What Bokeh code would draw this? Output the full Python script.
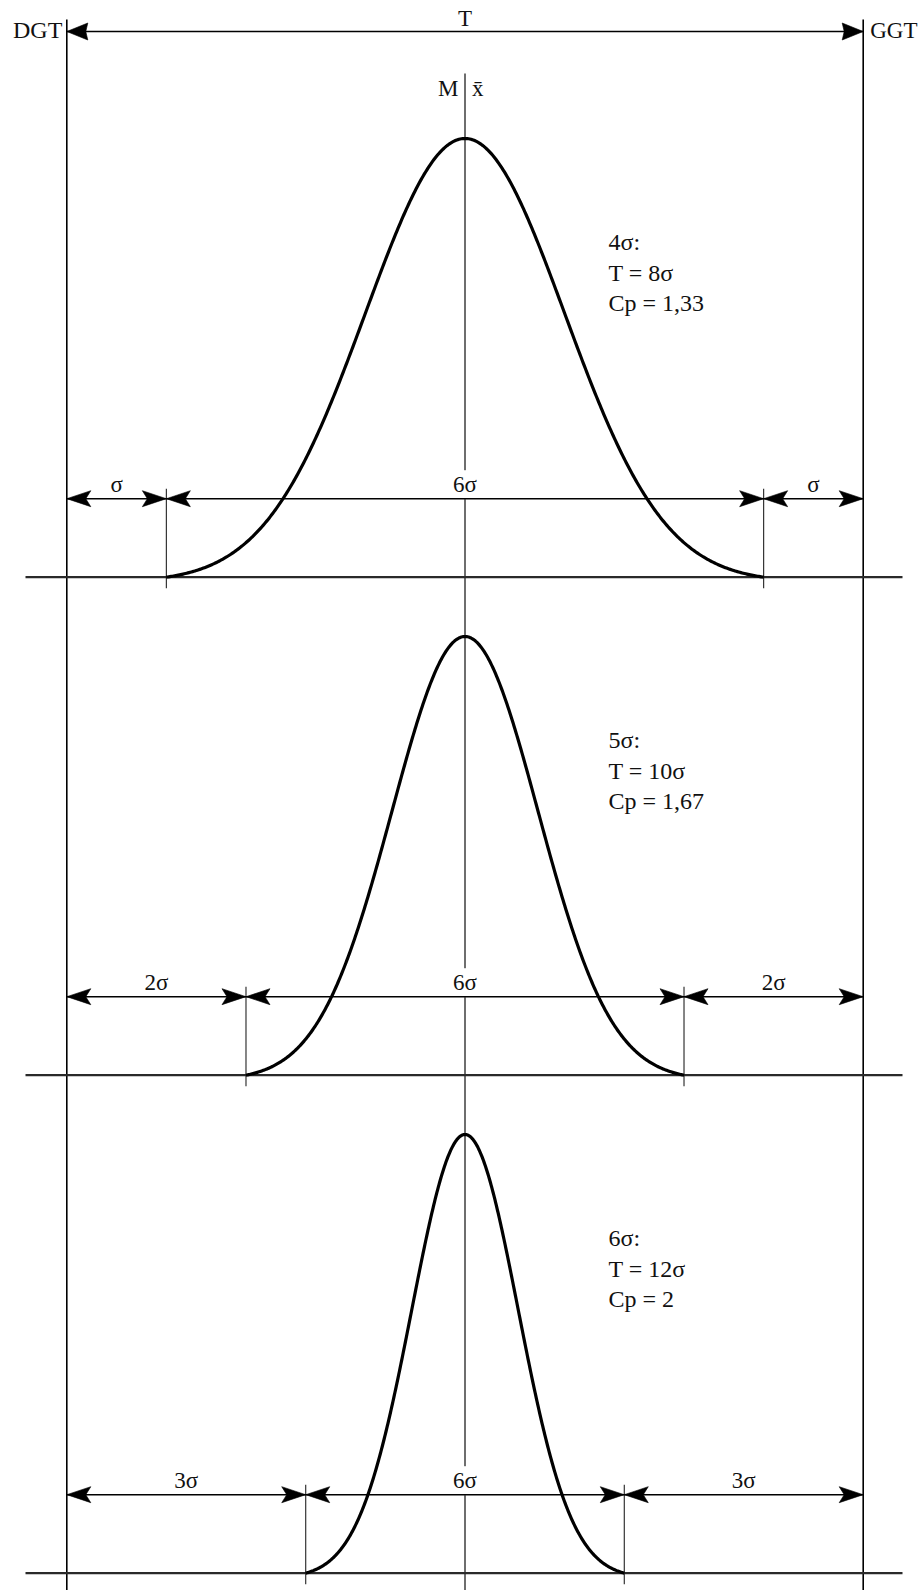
import numpy as np
from bokeh.plotting import figure
from bokeh.models import Range1d, ColumnDataSource
from bokeh.embed import file_html
from bokeh.resources import INLINE
from bokeh.core.properties import value

# ---------------- data ----------------
tol_names = ["DGT", "GGT"]
tol_limits = [-4.0, 4.0]          # lower / upper tolerance limit (units: σ of the top process)
spread_half = [3.0, 2.2, 1.6]     # half of the ±3σ spread of each process (same units)
side_labels = ["σ", "2σ", "3σ"]
mid_labels = ["6σ", "6σ", "6σ"]
level_labels = ["4σ:", "5σ:", "6σ:"]
t_labels = ["T = 8σ", "T = 10σ", "T = 12σ"]
cp_labels = ["Cp = 1,33", "Cp = 1,67", "Cp = 2"]
top_label = "T"
mean_labels = ["M", "x\u0304"]

# ---------------- layout (pixels) ----------------
W, H = 923, 1590
CX = 464.5          # page x of the mean
UNIT = 99.55        # pixels per horizontal unit


def X(px):
    return (px - CX) / UNIT


BASE = [576.7, 1074.7, 1572.7]   # baseline of each panel (page y)
PEAK_H = 438.7
ARROW_DY = 78.5
LABEL_DY = 14.0
TEXT_DY = 335.0
LINE_SP = [0.0, 31.0, 61.0]
TOP_ARROW_Y = 31.0
FONT = value("Liberation Serif")
INK = "#111111"

p = figure(width=W, height=H,
           x_range=Range1d(X(0), X(W)), y_range=Range1d(H, 0),
           x_axis_type=None, y_axis_type=None, toolbar_location=None,
           output_backend="svg", min_border=0, outline_line_color=None,
           background_fill_color="white", border_fill_color="white")
p.grid.visible = False

# tolerance limits and mean line
p.segment(x0=tol_limits, y0=[19, 19], x1=tol_limits, y1=[H + 10] * 2,
          line_color="black", line_width=1.6)
p.segment(x0=[0], y0=[73], x1=[0], y1=[H + 10], line_color="#4a4a4a", line_width=1.6)

# baselines
p.segment(x0=[X(25)] * 3, y0=BASE, x1=[X(902)] * 3, y1=BASE, line_color="#2a2a2a", line_width=2.2)

# ticks at the ends of each ±3σ spread
tx, ty0, ty1 = [], [], []
for h, b in zip(spread_half, BASE):
    for s in (-h, h):
        tx.append(s)
        ty0.append(b - ARROW_DY - 10)
        ty1.append(b + 11)
p.segment(x0=tx, y0=ty0, x1=tx, y1=ty1, line_color="#222222", line_width=1.1)

# bell curves
for h, b in zip(spread_half, BASE):
    x = np.linspace(-h, h, 501)
    s = h / 3.0
    g = np.exp(-0.5 * (x / s) ** 2)
    g0 = np.exp(-4.5)
    rel = (g - g0) / (1 - g0)
    p.line(x, b - PEAK_H * rel, line_color="black", line_width=3.2, line_join="round")

# middle labels (white box interrupts the mean line)
mid_src = ColumnDataSource(dict(x=[0.0] * 3, y=[b - ARROW_DY - LABEL_DY for b in BASE], t=mid_labels))
p.text(x="x", y="y", text="t", source=mid_src, text_font=FONT, text_font_size="23px",
       text_color=INK, text_align="center", text_baseline="middle",
       background_fill_color="white", padding=2)

# dimension arrows
def head(tip, y, d, L, half, notch):
    back = tip - d * L / UNIT
    nx = tip - d * notch / UNIT
    return [tip, back, nx, back], [y, y - half, y, y + half]

hx, hy = [], []
sx0, sx1, sy = [], [], []
lx, ly, lt = [], [], []
for h, b, sl in zip(spread_half, BASE, side_labels):
    ay = b - ARROW_DY
    stops = [tol_limits[0], -h, h, tol_limits[1]]
    for a, c in zip(stops[:-1], stops[1:]):
        sx0.append(a); sx1.append(c); sy.append(ay)
        for tip, d in ((a, -1), (c, 1)):
            xs, ys = head(tip, ay, d, 24, 8.0, 19)
            hx.append(xs); hy.append(ys)
    lx += [(stops[0] + stops[1]) / 2, (stops[2] + stops[3]) / 2]
    ly += [ay - LABEL_DY] * 2
    lt += [sl, sl]

p.segment(x0=sx0, y0=sy, x1=sx1, y1=sy, line_color="black", line_width=1.6)
p.patches(xs=hx, ys=hy, fill_color="black", line_color="black", line_width=0.6)

side_src = ColumnDataSource(dict(x=lx, y=ly, t=lt))
p.text(x="x", y="y", text="t", source=side_src, text_font=FONT, text_font_size="23px",
       text_color=INK, text_align="center", text_baseline="middle")

# top T arrow
p.segment(x0=[tol_limits[0]], y0=[TOP_ARROW_Y], x1=[tol_limits[1]], y1=[TOP_ARROW_Y],
          line_color="black", line_width=1.6)
thx, thy = [], []
for tip, d in ((tol_limits[0], -1), (tol_limits[1], 1)):
    xs, ys = head(tip, TOP_ARROW_Y, d, 21, 8.5, 19)
    thx.append(xs); thy.append(ys)
p.patches(xs=thx, ys=thy, fill_color="black", line_color="black", line_width=0.6)

p.text(x=[0.0], y=[17.5], text=[top_label], text_font=FONT, text_font_size="23px",
       text_color=INK, text_align="center", text_baseline="middle")

# DGT / GGT
p.text(x=[tol_limits[0] - 4.5 / UNIT], y=[29.0], text=[tol_names[0]], text_font=FONT,
       text_font_size="24px", text_color=INK, text_align="right", text_baseline="middle")
p.text(x=[tol_limits[1] + 7.0 / UNIT], y=[29.5], text=[tol_names[1]], text_font=FONT,
       text_font_size="23px", text_color=INK, text_align="left", text_baseline="middle")

# M | x̄
p.text(x=[-6.5 / UNIT], y=[87.5], text=[mean_labels[0]], text_font=FONT, text_font_size="23px",
       text_color=INK, text_align="right", text_baseline="middle")
p.text(x=[7.0 / UNIT], y=[87.5], text=[mean_labels[1]], text_font=FONT, text_font_size="23px",
       text_color=INK, text_align="left", text_baseline="middle")

# info blocks
ix, iy, it = [], [], []
for b, a, t, c in zip(BASE, level_labels, t_labels, cp_labels):
    for dy, s in zip(LINE_SP, (a, t, c)):
        ix.append(X(608))
        iy.append(b - TEXT_DY + dy)
        it.append(s)
info_src = ColumnDataSource(dict(x=ix, y=iy, t=it))
p.text(x="x", y="y", text="t", source=info_src, text_font=FONT, text_font_size="24px",
       text_color=INK, text_align="left", text_baseline="middle")

open("out.html", "w").write(file_html(p, INLINE))
